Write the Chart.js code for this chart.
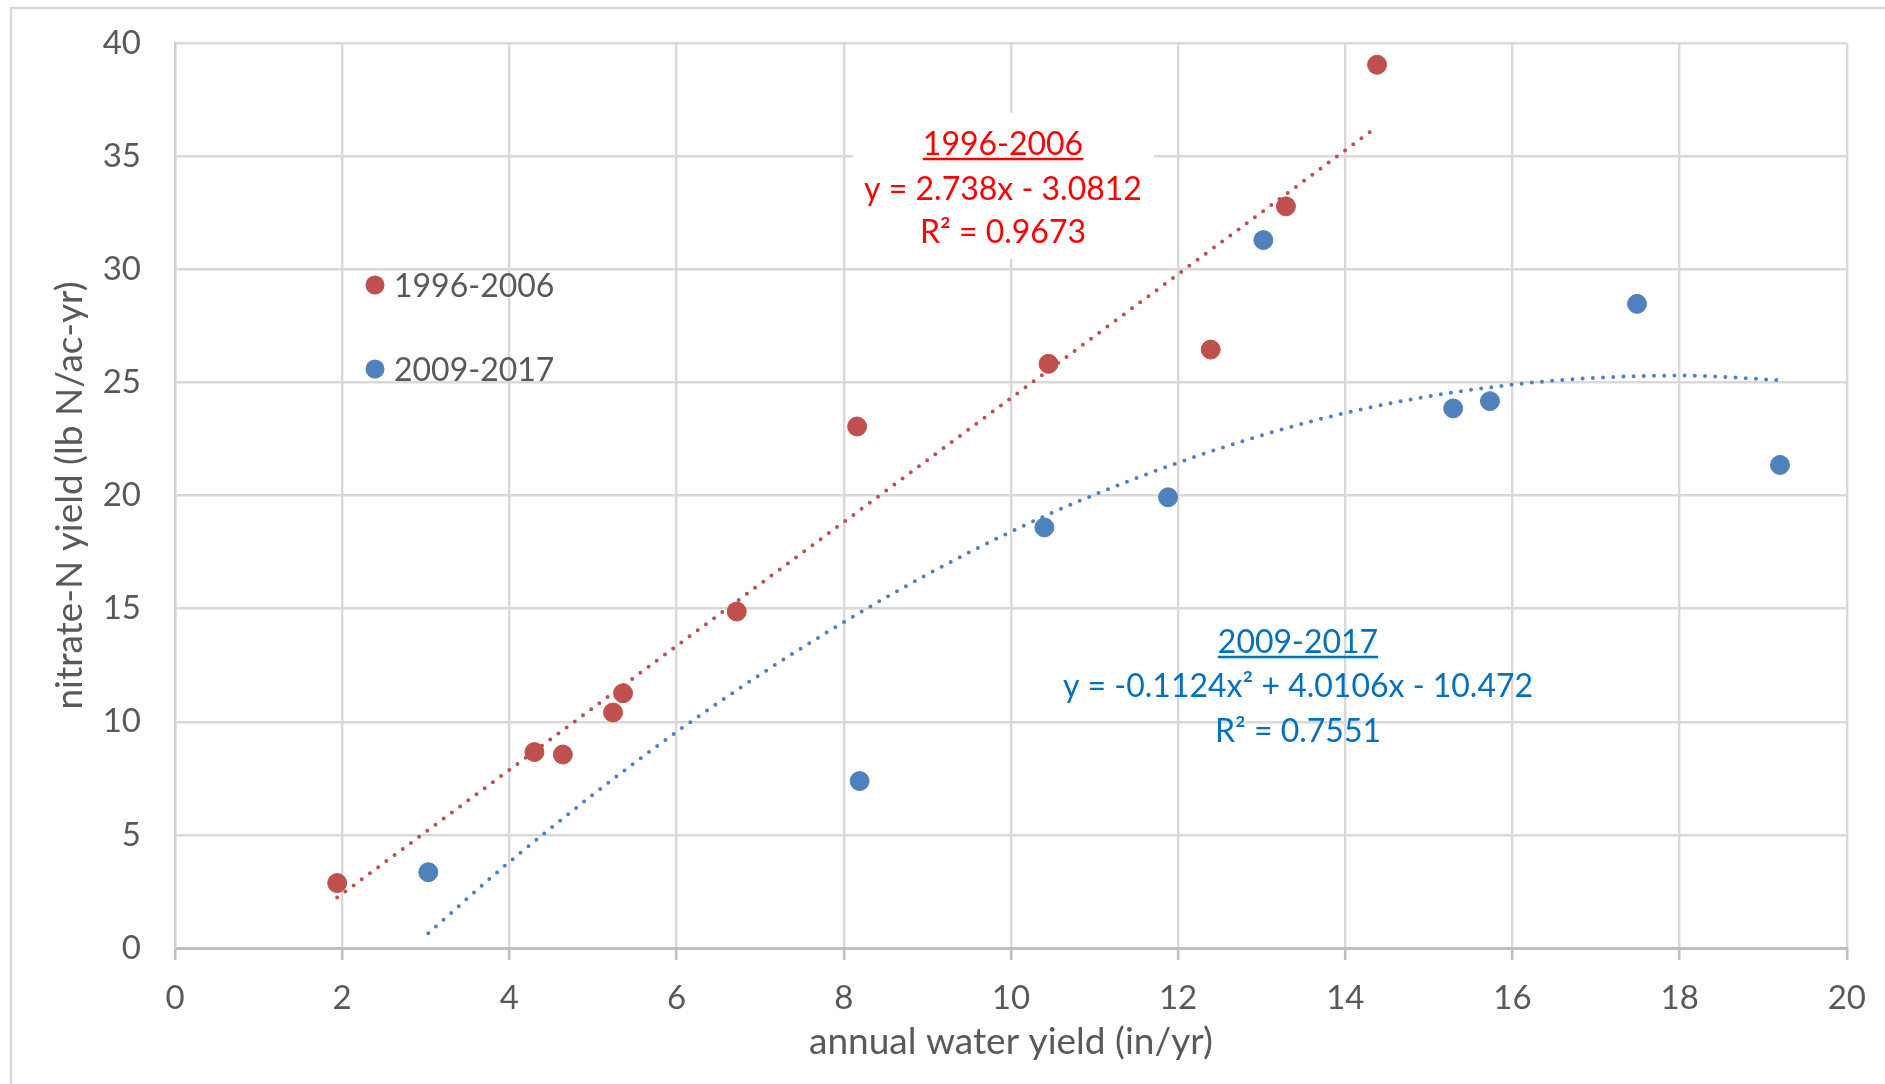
<!DOCTYPE html>
<html>
<head>
<meta charset="utf-8">
<script src="https://cdn.jsdelivr.net/npm/chart.js@4.4.1/dist/chart.umd.min.js"></script>
<style>
  html, body { margin: 0; padding: 0; background: #fff; }
  #wrap { width: 1885px; height: 1084px; position: relative; }
</style>
</head>
<body>
<div id="wrap"><canvas id="myChart"></canvas></div>
<script>
// 1996-2006 points (annual water yield, nitrate-N yield)
const redX = [1.94, 4.30, 4.64, 5.24, 5.36, 6.72, 8.16, 10.45, 12.39, 13.29, 14.38];
const redY = [2.87, 8.66, 8.55, 10.41, 11.26, 14.87, 23.05, 25.82, 26.45, 32.78, 39.04];
// 2009-2017 points
const blueX = [3.03, 8.19, 10.40, 11.88, 13.02, 15.29, 15.73, 17.49, 19.20];
const blueY = [3.35, 7.38, 18.59, 19.92, 31.29, 23.85, 24.17, 28.47, 21.35];
// trendlines
const redTrendX = [1.94, 14.38];
const redTrendY = [2.23, 36.3];
const blueTrendX = [3.03, 4, 6, 8, 10, 12, 14, 16, 18, 19.2];
const blueTrendY = [0.65, 3.8, 9.55, 14.4, 18.4, 21.45, 23.65, 24.9, 25.3, 25.1];

const seriesNames = ['1996-2006', '2009-2017'];
const redLabel = ['1996-2006', 'y = 2.738x - 3.0812', 'R\u00B2 = 0.9673'];
const blueLabel = ['2009-2017', 'y = -0.1124x\u00B2 + 4.0106x - 10.472', 'R\u00B2 = 0.7551'];

const xTicks = [0, 20, 2];
const yTicks = [0, 40, 5];

const RED = '#C0504D', BLUE = '#4F81BD';
const FONT = 'Lato, "Open Sans", sans-serif';

const pts = (xs, ys) => xs.map((x, i) => ({x: x, y: ys[i]}));

const extras = {
    id: 'extras',
    beforeDraw(chart) {
        const c = chart.ctx;
        c.save();
        c.strokeStyle = '#D9D9D9';
        c.lineWidth = 2.5;
        c.strokeRect(11, 8, 1900, 1100);
        c.restore();
    },
    beforeDatasetsDraw(chart) {
        // white box behind the red equation
        const c = chart.ctx;
        c.save();
        c.fillStyle = '#fff';
        c.fillRect(853, 113, 301, 146);
        c.restore();
    },
    afterDraw(chart) {
        const c = chart.ctx;
        c.save();
        c.font = '32px ' + FONT;
        c.textBaseline = 'alphabetic';
        // legend inside plot
        const leg = [[RED, 285], [BLUE, 369]];
        leg.forEach((l, i) => {
            c.fillStyle = l[0];
            c.beginPath();
            c.arc(375, l[1], 9.5, 0, Math.PI * 2);
            c.fill();
            c.fillStyle = '#595959';
            c.textAlign = 'left';
            c.fillText(seriesNames[i], 394, l[1] + 11.5);
        });
        const block = (lines, color, cx, base) => {
            c.fillStyle = color;
            c.strokeStyle = color;
            c.textAlign = 'center';
            lines.forEach((t, i) => c.fillText(t, cx, base[i]));
            const w = c.measureText(lines[0]).width;
            c.lineWidth = 2.6;
            c.beginPath();
            c.moveTo(cx - w / 2, base[0] + 4);
            c.lineTo(cx + w / 2, base[0] + 4);
            c.stroke();
        };
        block(redLabel, '#FF0000', 1003, [155, 200, 243]);
        block(blueLabel, '#0070C0', 1298, [653, 697, 742]);
        c.restore();
    }
};

new Chart(document.getElementById('myChart').getContext('2d'), {
    type: 'scatter',
    data: {
        datasets: [{
            label: seriesNames[0],
            data: pts(redX, redY),
            backgroundColor: RED,
            borderColor: RED,
            pointRadius: 9.5,
            order: 0
        }, {
            label: seriesNames[1],
            data: pts(blueX, blueY),
            backgroundColor: BLUE,
            borderColor: BLUE,
            pointRadius: 9.5,
            order: 1
        }, {
            label: 'red trend',
            data: pts(redTrendX, redTrendY),
            showLine: true,
            pointRadius: 0,
            borderColor: RED,
            borderWidth: 4,
            borderDash: [0, 10.2],
            borderCapStyle: 'round',
            order: 2
        }, {
            label: 'blue trend',
            data: pts(blueTrendX, blueTrendY),
            showLine: true,
            pointRadius: 0,
            borderColor: BLUE,
            borderWidth: 4,
            borderDash: [0, 10.2],
            borderCapStyle: 'round',
            cubicInterpolationMode: 'monotone',
            order: 3
        }]
    },
    options: {
        responsive: true,
        maintainAspectRatio: false,
        animation: false,
        layout: { padding: { left: 0, top: 43, right: 38, bottom: 0 } },
        plugins: { legend: { display: false }, tooltip: { enabled: false } },
        scales: {
            x: {
                type: 'linear',
                min: xTicks[0], max: xTicks[1],
                afterFit: s => { s.height = 136; },
                ticks: { stepSize: xTicks[2], color: '#595959', font: { family: FONT, size: 33 }, padding: 19 },
                grid: { color: '#D9D9D9', lineWidth: 2.4, tickLength: 12, tickColor: '#BFBFBF', tickWidth: 2.6 },
                border: { color: '#BFBFBF', width: 3 },
                title: { display: true, text: 'annual water yield (in/yr)', color: '#595959',
                         font: { family: FONT, size: 37 }, padding: { top: 0, bottom: 20 } }
            },
            y: {
                type: 'linear',
                min: yTicks[0], max: yTicks[1],
                afterFit: s => { s.width = 175; },
                ticks: { stepSize: yTicks[2], color: '#595959', font: { family: FONT, size: 33 }, padding: 0 },
                // invisible tick marks keep the labels away from the axis
                grid: { color: '#D9D9D9', lineWidth: 2.4, tickLength: 34, tickColor: 'rgba(0,0,0,0)' },
                border: { color: '#D0D0D0', width: 2.4 },
                title: { display: true, text: 'nitrate-N yield (lb N/ac-yr)', color: '#595959',
                         font: { family: FONT, size: 37 }, padding: { top: 48, bottom: 0 } }
            }
        }
    },
    plugins: [extras]
});
</script>
</body>
</html>
